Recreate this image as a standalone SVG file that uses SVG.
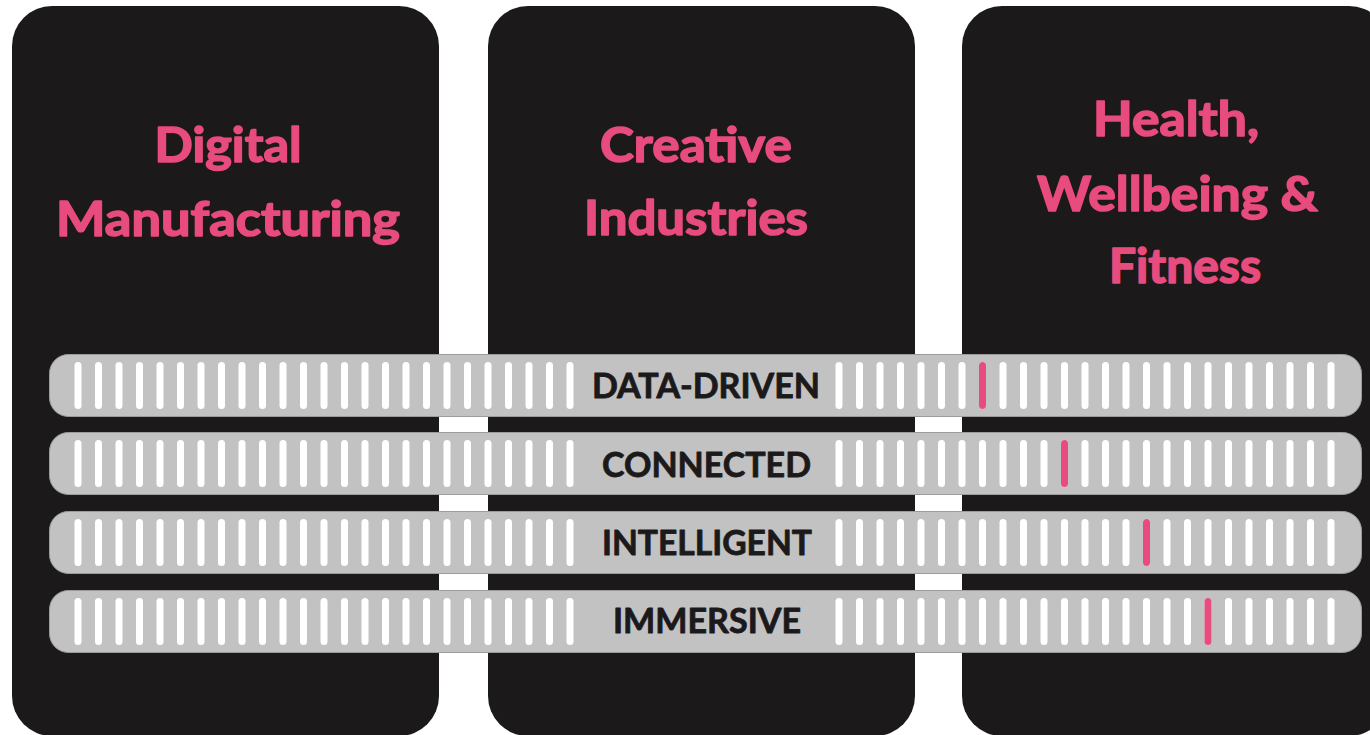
<svg xmlns="http://www.w3.org/2000/svg" xmlns:xlink="http://www.w3.org/1999/xlink" width="1370" height="735" viewBox="0 0 1370 735">
<style>
.panel{fill:#1b191a}
.title{font-family:Lato,"Open Sans","Liberation Sans",sans-serif;font-weight:700;font-size:48px;fill:#e84b7d;stroke:#e84b7d;stroke-width:1.6px;stroke-linejoin:round;text-anchor:middle}
.bar{fill:#c2c2c2;stroke:#9c9c9c;stroke-width:1}
.slot{fill:#ffffff}
.tick{fill:#e84b7d}
.label{font-family:Lato,"Open Sans","Liberation Sans",sans-serif;font-weight:700;font-size:34px;fill:#1b191a;stroke:#1b191a;stroke-width:0.8px;stroke-linejoin:round;text-anchor:middle}
</style>
<defs>
<g id="slots">
<rect class="slot" x="74.5" y="0" width="7" height="47" rx="3.5"/><rect class="slot" x="95" y="0" width="7" height="47" rx="3.5"/><rect class="slot" x="115.5" y="0" width="7" height="47" rx="3.5"/><rect class="slot" x="136" y="0" width="7" height="47" rx="3.5"/><rect class="slot" x="156.5" y="0" width="7" height="47" rx="3.5"/><rect class="slot" x="177" y="0" width="7" height="47" rx="3.5"/><rect class="slot" x="197.5" y="0" width="7" height="47" rx="3.5"/><rect class="slot" x="218" y="0" width="7" height="47" rx="3.5"/><rect class="slot" x="238.5" y="0" width="7" height="47" rx="3.5"/><rect class="slot" x="259" y="0" width="7" height="47" rx="3.5"/><rect class="slot" x="279.5" y="0" width="7" height="47" rx="3.5"/><rect class="slot" x="300" y="0" width="7" height="47" rx="3.5"/><rect class="slot" x="320.5" y="0" width="7" height="47" rx="3.5"/><rect class="slot" x="341" y="0" width="7" height="47" rx="3.5"/><rect class="slot" x="361.5" y="0" width="7" height="47" rx="3.5"/><rect class="slot" x="382" y="0" width="7" height="47" rx="3.5"/><rect class="slot" x="402.5" y="0" width="7" height="47" rx="3.5"/><rect class="slot" x="423" y="0" width="7" height="47" rx="3.5"/><rect class="slot" x="443.5" y="0" width="7" height="47" rx="3.5"/><rect class="slot" x="464" y="0" width="7" height="47" rx="3.5"/><rect class="slot" x="484.5" y="0" width="7" height="47" rx="3.5"/><rect class="slot" x="505" y="0" width="7" height="47" rx="3.5"/><rect class="slot" x="525.5" y="0" width="7" height="47" rx="3.5"/><rect class="slot" x="546" y="0" width="7" height="47" rx="3.5"/><rect class="slot" x="566.5" y="0" width="7" height="47" rx="3.5"/>
<rect class="slot" x="835.5" y="0" width="7" height="47" rx="3.5"/><rect class="slot" x="856" y="0" width="7" height="47" rx="3.5"/><rect class="slot" x="876.5" y="0" width="7" height="47" rx="3.5"/><rect class="slot" x="897" y="0" width="7" height="47" rx="3.5"/><rect class="slot" x="917.5" y="0" width="7" height="47" rx="3.5"/><rect class="slot" x="938" y="0" width="7" height="47" rx="3.5"/><rect class="slot" x="958.5" y="0" width="7" height="47" rx="3.5"/><rect class="slot" x="979" y="0" width="7" height="47" rx="3.5"/><rect class="slot" x="999.5" y="0" width="7" height="47" rx="3.5"/><rect class="slot" x="1020" y="0" width="7" height="47" rx="3.5"/><rect class="slot" x="1040.5" y="0" width="7" height="47" rx="3.5"/><rect class="slot" x="1061" y="0" width="7" height="47" rx="3.5"/><rect class="slot" x="1081.5" y="0" width="7" height="47" rx="3.5"/><rect class="slot" x="1102" y="0" width="7" height="47" rx="3.5"/><rect class="slot" x="1122.5" y="0" width="7" height="47" rx="3.5"/><rect class="slot" x="1143" y="0" width="7" height="47" rx="3.5"/><rect class="slot" x="1163.5" y="0" width="7" height="47" rx="3.5"/><rect class="slot" x="1184" y="0" width="7" height="47" rx="3.5"/><rect class="slot" x="1204.5" y="0" width="7" height="47" rx="3.5"/><rect class="slot" x="1225" y="0" width="7" height="47" rx="3.5"/><rect class="slot" x="1245.5" y="0" width="7" height="47" rx="3.5"/><rect class="slot" x="1266" y="0" width="7" height="47" rx="3.5"/><rect class="slot" x="1286.5" y="0" width="7" height="47" rx="3.5"/><rect class="slot" x="1307" y="0" width="7" height="47" rx="3.5"/><rect class="slot" x="1327.5" y="0" width="7" height="47" rx="3.5"/>
</g>
</defs>
<rect width="1370" height="735" fill="#ffffff"/>
<g id="panel-digital-manufacturing">
<rect class="panel" x="12" y="6" width="427" height="730" rx="40"/>
<text class="title" x="228" y="162" textLength="147" lengthAdjust="spacingAndGlyphs">Digital</text>
<text class="title" x="228" y="236" textLength="344" lengthAdjust="spacingAndGlyphs">Manufacturing</text>
</g>
<g id="panel-creative-industries">
<rect class="panel" x="488" y="6" width="427" height="730" rx="40"/>
<text class="title" x="696" y="162" textLength="192" lengthAdjust="spacingAndGlyphs">Creative</text>
<text class="title" x="696" y="235" textLength="224" lengthAdjust="spacingAndGlyphs">Industries</text>
</g>
<g id="panel-health">
<rect class="panel" x="962" y="6" width="427" height="730" rx="40"/>
<text class="title" x="1176" y="136" textLength="166" lengthAdjust="spacingAndGlyphs">Health,</text>
<text class="title" x="1177.5" y="211" textLength="281" lengthAdjust="spacingAndGlyphs">Wellbeing &amp;</text>
<text class="title" x="1185" y="283" textLength="152" lengthAdjust="spacingAndGlyphs">Fitness</text>
</g>
<g id="bar-data-driven">
<rect class="bar" x="49.5" y="354.5" width="1312" height="62" rx="19"/>
<use xlink:href="#slots" href="#slots" transform="translate(0,362)"/>
<rect class="tick" x="979" y="362" width="7" height="47" rx="3.5"/>
<text class="label" x="706" y="398" textLength="228" lengthAdjust="spacingAndGlyphs">DATA-DRIVEN</text>
</g>
<g id="bar-connected">
<rect class="bar" x="49.5" y="432.5" width="1312" height="62" rx="19"/>
<use xlink:href="#slots" href="#slots" transform="translate(0,440)"/>
<rect class="tick" x="1061" y="440" width="7" height="47" rx="3.5"/>
<text class="label" x="706.5" y="477" textLength="209" lengthAdjust="spacingAndGlyphs">CONNECTED</text>
</g>
<g id="bar-intelligent">
<rect class="bar" x="49.5" y="511.5" width="1312" height="62" rx="19"/>
<use xlink:href="#slots" href="#slots" transform="translate(0,519)"/>
<rect class="tick" x="1143" y="519" width="7" height="47" rx="3.5"/>
<text class="label" x="707" y="555" textLength="210" lengthAdjust="spacingAndGlyphs">INTELLIGENT</text>
</g>
<g id="bar-immersive">
<rect class="bar" x="49.5" y="590.5" width="1312" height="62" rx="19"/>
<use xlink:href="#slots" href="#slots" transform="translate(0,598)"/>
<rect class="tick" x="1204.5" y="598" width="7" height="47" rx="3.5"/>
<text class="label" x="707" y="633" textLength="188" lengthAdjust="spacingAndGlyphs">IMMERSIVE</text>
</g>
<g id="connectors"/>
</svg>
